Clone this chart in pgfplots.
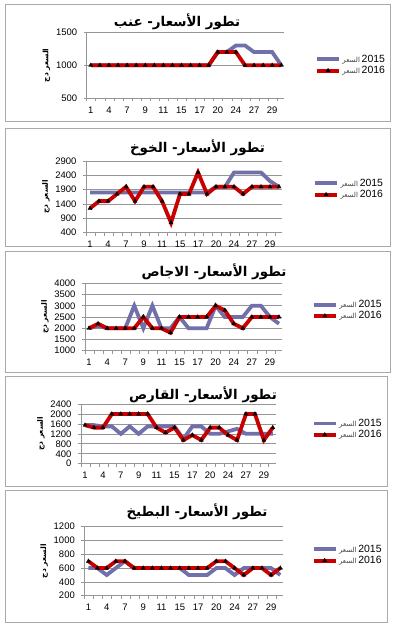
\documentclass[border=0pt]{standalone}
\usepackage{fontspec}
\setmainfont{Liberation Sans}
\newfontfamily\arabicfont[Script=Arabic]{DejaVu Sans}
\TeXXeTstate=1
\usepackage{pgfplots}
\pgfplotsset{compat=1.18}
\definecolor{cA}{RGB}{112,112,170}
\definecolor{cB}{RGB}{200,0,0}
\definecolor{gridc}{RGB}{150,150,150}
\definecolor{boxc}{RGB}{170,170,170}
\newcommand{\ylab}{{\arabicfont\bfseries\fontsize{7.5}{7.5}\selectfont\beginR السعر دج\endR}}
\newcommand{\leg}[1]{{\arabicfont\fontsize{7}{7}\selectfont\color{darkgray}\beginR السعر\endR}\,#1}
\pgfplotsset{panel/.style={
  scale only axis, anchor=south west,
  xmin=-0.45, xmax=21.3,
  axis x line*=bottom, axis y line*=left,
  xtick={0,2,...,20}, xticklabels={1,4,7,9,11,15,17,20,24,27,29},
  minor xtick={-0.45,0.55,...,21.55},
  major x tick style={draw=none},
  ymajorgrids, grid style={gridc, line width=0.6bp},
  tick style={gridc, line width=0.6bp},
  tick align=outside, major tick length=3bp, minor tick length=3bp,
  axis line style={gridc, line width=0.8bp},
  /pgf/number format/assume math mode=true,
  /pgf/number format/1000 sep={},
  ticklabel style={font=\fontsize{9.5}{9.5}\selectfont},
  yticklabel style={xshift=-3bp},
  xticklabel style={yshift=-2bp},
  ylabel={\ylab},
  ylabel style={yshift=-1bp},
  legend cell align=left,
  legend style={draw=none, fill=none, anchor=west, inner xsep=0pt, inner ysep=0pt, row sep=-1.5bp,
    font=\fontsize{10.5}{10.5}\selectfont, nodes={inner xsep=1.5bp}},
  legend image code/.code={\draw[mark repeat=2,mark phase=2,#1] plot coordinates {(0bp,0bp) (11bp,0bp) (22bp,0bp)};},
  clip=false,
}, s15/.style={cA, line width=3.8bp, mark=none}, s16/.style={cB, line width=3.8bp, mark=triangle*, mark size=2.4bp, mark options={black, fill=black, line width=0.3bp}}}
\begin{document}
\begin{tikzpicture}
\useasboundingbox (0,0) rectangle (393bp,628bp);
\draw[boxc, line width=1bp] (5bp,506bp) rectangle (390bp,623bp);
\draw[boxc, line width=1bp] (5bp,381bp) rectangle (390bp,499bp);
\draw[boxc, line width=1bp] (5bp,255bp) rectangle (390bp,376bp);
\draw[boxc, line width=1bp] (5bp,141bp) rectangle (387bp,251bp);
\draw[boxc, line width=1bp] (5bp,5bp) rectangle (387bp,137bp);
\tikzset{ttl/.style={font=\arabicfont\bfseries\fontsize{13.5}{13.5}\selectfont}}
\node[ttl] at (177bp,606.3bp) {\beginR تطور الأسعار- عنب\endR};
\node[ttl] at (197.5bp,480bp) {\beginR تطور الأسعار- الخوخ\endR};
\node[ttl] at (214bp,356.3bp) {\beginR تطور الأسعار- الاجاص\endR};
\node[ttl] at (203bp,233bp) {\beginR تطور الأسعار- القارص\endR};
\node[ttl] at (197bp,116.3bp) {\beginR تطور الأسعار- البطيخ\endR};

% Panel 1: grapes
\begin{axis}[panel, at={(86.7bp,529.7bp)}, width=197.3bp, height=66bp,
  ymin=500, ymax=1500, ytick={500,1000,1500}, legend style={at={(1.157,0.505)}}]
\addplot[s15] coordinates {(0,1000)(1,1000)(2,1000)(3,1000)(4,1000)(5,1000)(6,1000)(7,1000)(8,1000)(9,1000)(10,1000)(11,1000)(12,1000)(13,1000)(14,1200)(15,1200)(16,1300)(17,1300)(18,1200)(19,1200)(20,1200)(21,1000)};
\addlegendentry{\leg{2015}}
\addplot[s16] coordinates {(0,1000)(1,1000)(2,1000)(3,1000)(4,1000)(5,1000)(6,1000)(7,1000)(8,1000)(9,1000)(10,1000)(11,1000)(12,1000)(13,1000)(14,1200)(15,1200)(16,1200)(17,1000)(18,1000)(19,1000)(20,1000)(21,1000)};
\addlegendentry{\leg{2016}}
\end{axis}

% Panel 2: peach
\begin{axis}[panel, at={(86bp,395.3bp)}, width=195.7bp, height=71.7bp,
  ymin=400, ymax=2900, ytick={400,900,...,2900}, legend style={at={(1.16,0.61)}}]
\addplot[s15] coordinates {(0,1800)(1,1800)(2,1800)(3,1800)(4,1800)(5,1800)(6,1800)(7,1800)(8,1800)(9,1800)(10,1800)(11,1800)(12,1800)(13,1800)(14,2000)(15,2000)(16,2500)(17,2500)(18,2500)(19,2500)(20,2200)(21,2000)};
\addlegendentry{\leg{2015}}
\addplot[s16] coordinates {(0,1250)(1,1500)(2,1500)(3,1750)(4,2000)(5,1500)(6,2000)(7,2000)(8,1500)(9,750)(10,1750)(11,1750)(12,2500)(13,1750)(14,2000)(15,2000)(16,2000)(17,1750)(18,2000)(19,2000)(20,2000)(21,2000)};
\addlegendentry{\leg{2016}}
\end{axis}

% Panel 3: pears
\begin{axis}[panel, at={(85bp,277.3bp)}, width=196.7bp, height=67.4bp,
  ymin=1000, ymax=4000, ytick={1000,1500,...,4000}, legend style={at={(1.153,0.60)}}]
\addplot[s15] coordinates {(0,2000)(1,2100)(2,2000)(3,2000)(4,2000)(5,3000)(6,2000)(7,3000)(8,2000)(9,2000)(10,2500)(11,2000)(12,2000)(13,2000)(14,3000)(15,2500)(16,2500)(17,2500)(18,3000)(19,3000)(20,2500)(21,2200)};
\addlegendentry{\leg{2015}}
\addplot[s16] coordinates {(0,2000)(1,2200)(2,2000)(3,2000)(4,2000)(5,2000)(6,2500)(7,2000)(8,2000)(9,1800)(10,2500)(11,2500)(12,2500)(13,2500)(14,3000)(15,2800)(16,2200)(17,2000)(18,2500)(19,2500)(20,2500)(21,2500)};
\addlegendentry{\leg{2016}}
\end{axis}

% Panel 4
\begin{axis}[panel, at={(81bp,164.3bp)}, width=194.5bp, height=59.7bp,
  ymin=0, ymax=2400, ytick={0,400,...,2400}, legend style={at={(1.186,0.58)}}]
\addplot[s15] coordinates {(0,1550)(1,1550)(2,1500)(3,1500)(4,1200)(5,1500)(6,1200)(7,1500)(8,1500)(9,1500)(10,1500)(11,1000)(12,1500)(13,1500)(14,1200)(15,1200)(16,1300)(17,1400)(18,1200)(19,1200)(20,1200)(21,1200)};
\addlegendentry{\leg{2015}}
\addplot[s16] coordinates {(0,1550)(1,1450)(2,1450)(3,2000)(4,2000)(5,2000)(6,2000)(7,2000)(8,1450)(9,1250)(10,1450)(11,950)(12,1150)(13,950)(14,1450)(15,1450)(16,1150)(17,950)(18,2000)(19,2000)(20,950)(21,1450)};
\addlegendentry{\leg{2016}}
\end{axis}

% Panel 5: watermelon
\begin{axis}[panel, at={(84.3bp,32.3bp)}, width=198.7bp, height=69bp,
  ymin=200, ymax=1200, ytick={200,400,...,1200}, legend style={at={(1.144,0.59)}}]
\addplot[s15] coordinates {(0,600)(1,600)(2,500)(3,600)(4,700)(5,600)(6,600)(7,600)(8,600)(9,600)(10,600)(11,500)(12,500)(13,500)(14,600)(15,600)(16,500)(17,600)(18,600)(19,600)(20,600)(21,500)};
\addlegendentry{\leg{2015}}
\addplot[s16] coordinates {(0,700)(1,600)(2,600)(3,700)(4,700)(5,600)(6,600)(7,600)(8,600)(9,600)(10,600)(11,600)(12,600)(13,600)(14,700)(15,700)(16,600)(17,500)(18,600)(19,600)(20,500)(21,600)};
\addlegendentry{\leg{2016}}
\end{axis}
\end{tikzpicture}
\end{document}
